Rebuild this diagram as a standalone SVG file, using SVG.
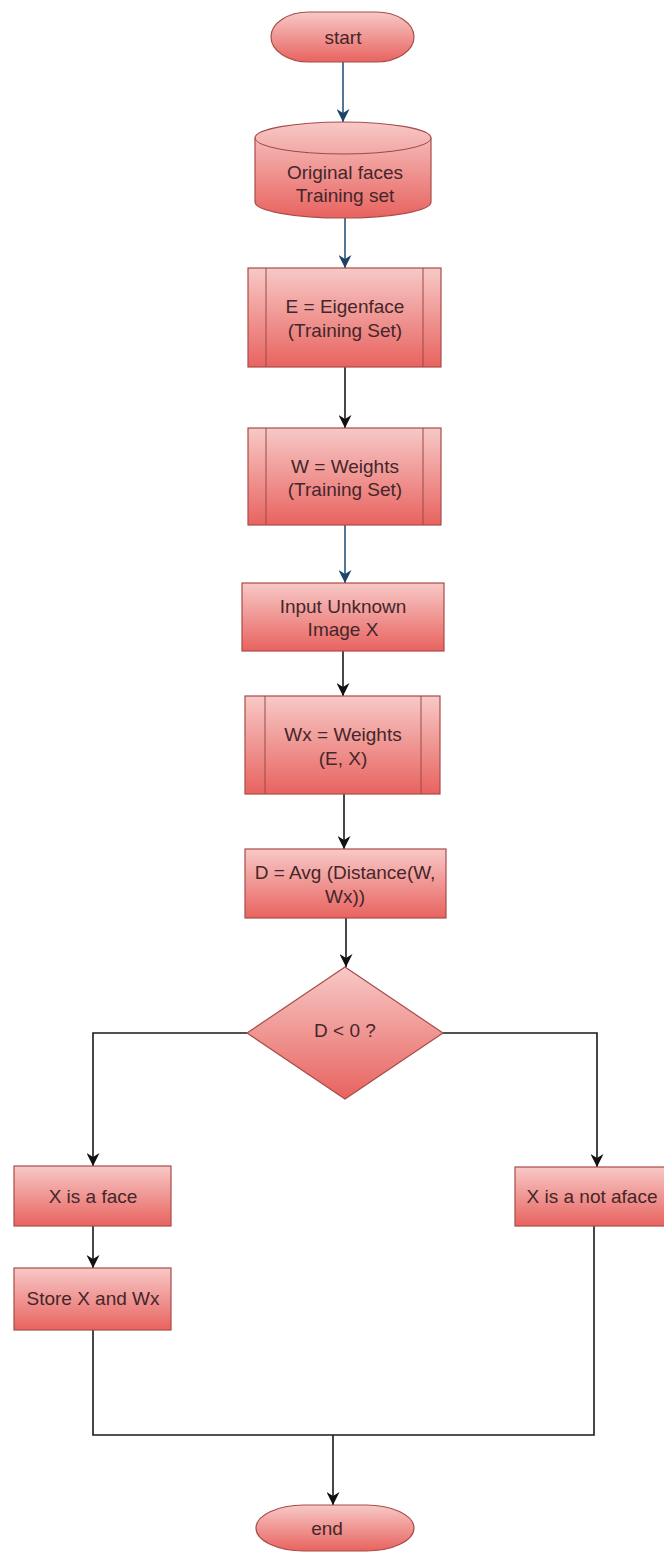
<svg xmlns="http://www.w3.org/2000/svg" width="664" height="1553" viewBox="0 0 664 1553">
  <defs>
    <linearGradient id="redFill" x1="0" y1="0" x2="0" y2="1">
      <stop offset="0" stop-color="#f7c9c7"/>
      <stop offset="1" stop-color="#e8635f"/>
    </linearGradient>
    <marker id="arrowBlack" viewBox="0 0 10 10" refX="10" refY="5" markerWidth="13" markerHeight="13" markerUnits="userSpaceOnUse" orient="auto">
      <path d="M0,0 L10,5 L0,10 L3,5 Z" fill="#111"/>
    </marker>
    <marker id="arrowBlue" viewBox="0 0 10 10" refX="10" refY="5" markerWidth="13" markerHeight="13" markerUnits="userSpaceOnUse" orient="auto">
      <path d="M0,0 L10,5 L0,10 L3,5 Z" fill="#1d4466"/>
    </marker>
  </defs>
  <style>
    .shape { fill: url(#redFill); stroke: #a84c48; stroke-width: 1.2; }
    .inner { fill: none; stroke: #9a4a46; stroke-width: 1; }
    .label { font-family: "Liberation Sans", Arial, sans-serif; font-size: 19px; fill: #45262a; text-anchor: middle; }
    .edge { fill: none; stroke: #1a1a1a; stroke-width: 1.6; }
    .edge-blue { fill: none; stroke: #2a5578; stroke-width: 1.6; }
  </style>
  <rect width="664" height="1553" fill="#ffffff"/>

  <!-- connectors -->
  <g id="connectors">
    <line class="edge-blue" x1="343" y1="62" x2="343" y2="122" marker-end="url(#arrowBlue)"/>
    <line class="edge-blue" x1="345" y1="218" x2="345" y2="268" marker-end="url(#arrowBlue)"/>
    <line class="edge" x1="345" y1="367" x2="345" y2="428" marker-end="url(#arrowBlack)"/>
    <line class="edge-blue" x1="345" y1="525" x2="345" y2="583" marker-end="url(#arrowBlue)"/>
    <line class="edge" x1="343" y1="651" x2="343" y2="696" marker-end="url(#arrowBlack)"/>
    <line class="edge" x1="344" y1="794" x2="344" y2="849" marker-end="url(#arrowBlack)"/>
    <line class="edge" x1="346" y1="918" x2="346" y2="967" marker-end="url(#arrowBlack)"/>
    <polyline class="edge" points="247,1033 93,1033 93,1166" marker-end="url(#arrowBlack)"/>
    <polyline class="edge" points="443,1033 597,1033 597,1167" marker-end="url(#arrowBlack)"/>
    <line class="edge" x1="93" y1="1226" x2="93" y2="1268" marker-end="url(#arrowBlack)"/>
    <polyline class="edge" points="93,1330 93,1435 333,1435"/>
    <polyline class="edge" points="594,1226 594,1435 333,1435"/>
    <line class="edge" x1="333" y1="1435" x2="333" y2="1505" marker-end="url(#arrowBlack)"/>
  </g>

  <!-- terminator: start -->
  <g id="start">
    <rect class="shape" x="271" y="12" width="143" height="50" rx="38" ry="25"/>
    <text class="label" x="343" y="44">start</text>
  </g>

  <!-- data store: training set -->
  <g id="training-set">
    <path class="shape" d="M255,138 A88,16 0 0,1 431,138 L431,202 A88,16 0 0,1 255,202 Z"/>
    <path class="inner" d="M255,138 A88,16 0 0,0 431,138"/>
    <text class="label" x="345" y="179">Original faces</text>
    <text class="label" x="345" y="202">Training set</text>
  </g>

  <!-- predefined process: eigenfaces -->
  <g id="eigenface">
    <rect class="shape" x="248" y="268" width="193" height="99"/>
    <line class="inner" x1="266" y1="268" x2="266" y2="367"/>
    <line class="inner" x1="423" y1="268" x2="423" y2="367"/>
    <text class="label" x="345" y="313">E = Eigenface</text>
    <text class="label" x="345" y="337">(Training Set)</text>
  </g>

  <!-- predefined process: training weights -->
  <g id="weights">
    <rect class="shape" x="248" y="428" width="193" height="97"/>
    <line class="inner" x1="266" y1="428" x2="266" y2="525"/>
    <line class="inner" x1="423" y1="428" x2="423" y2="525"/>
    <text class="label" x="345" y="473">W = Weights</text>
    <text class="label" x="345" y="496">(Training Set)</text>
  </g>

  <!-- process: input image -->
  <g id="input-image">
    <rect class="shape" x="242" y="583" width="202" height="68"/>
    <text class="label" x="343" y="613">Input Unknown</text>
    <text class="label" x="343" y="636">Image X</text>
  </g>

  <!-- predefined process: input weights -->
  <g id="input-weights">
    <rect class="shape" x="245" y="696" width="195" height="98"/>
    <line class="inner" x1="265" y1="696" x2="265" y2="794"/>
    <line class="inner" x1="421" y1="696" x2="421" y2="794"/>
    <text class="label" x="343" y="741">Wx = Weights</text>
    <text class="label" x="343" y="765">(E, X)</text>
  </g>

  <!-- process: distance -->
  <g id="distance">
    <rect class="shape" x="245" y="849" width="201" height="69"/>
    <text class="label" x="345" y="879">D = Avg (Distance(W,</text>
    <text class="label" x="345" y="903">Wx))</text>
  </g>

  <!-- decision -->
  <g id="decision">
    <polygon class="shape" points="345,967 443,1033 345,1099 247,1033"/>
    <text class="label" x="345" y="1037">D &lt; 0 ?</text>
  </g>

  <!-- outcome: face -->
  <g id="is-face">
    <rect class="shape" x="14" y="1166" width="157" height="60"/>
    <text class="label" x="93" y="1203">X is a face</text>
  </g>

  <!-- outcome: store -->
  <g id="store">
    <rect class="shape" x="14" y="1268" width="157" height="62"/>
    <text class="label" x="93" y="1305">Store X and Wx</text>
  </g>

  <!-- outcome: not a face -->
  <g id="not-face">
    <rect class="shape" x="515" y="1167" width="152" height="59"/>
    <text class="label" x="592" y="1203">X is a not aface</text>
  </g>

  <!-- terminator: end -->
  <g id="end">
    <rect class="shape" x="256" y="1505" width="158" height="46" rx="48" ry="23"/>
    <text class="label" x="327" y="1535">end</text>
  </g>
</svg>
